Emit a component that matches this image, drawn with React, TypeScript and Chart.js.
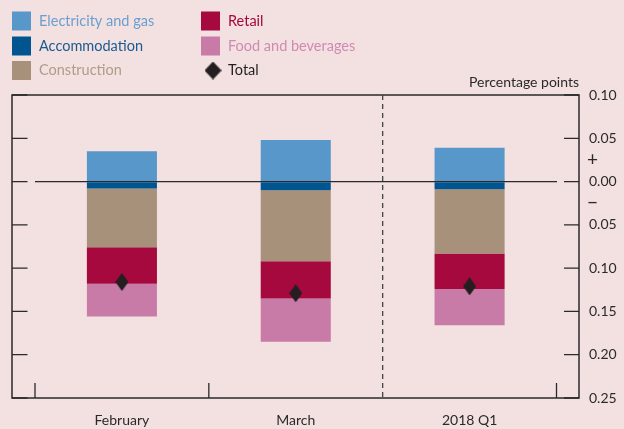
import { useEffect, useRef } from "react";
import { Chart, registerables } from "chart.js";
Chart.register(...registerables);

const categories = ["February", "March", "2018 Q1"];
const electricity = [0.035, 0.048, 0.039];
const accommodation = [-0.008, -0.010, -0.009];
const construction = [-0.068, -0.082, -0.074];
const retail = [-0.042, -0.043, -0.041];
const food = [-0.038, -0.050, -0.042];
const total = [-0.116, -0.129, -0.121];
const yTicks = [-0.25, -0.2, -0.15, -0.1, -0.05, 0, 0.05, 0.1];

const seriesNames = ["Electricity and gas", "Accommodation", "Construction", "Retail", "Food and beverages", "Total"];
const colors = ["#5897C9", "#00548F", "#A8917A", "#A6093E", "#C87BA7", "#231F20"];
const textColors = ["#6A9FCF", "#1A5A90", "#B09C88", "#A6093E", "#D08AB2", "#231F20"];
const BG = "#F3E0E1";
const INK = "#2a2a2a";
const FONT = "Lato, 'Open Sans', sans-serif";

function makeDiamond(w: number, h: number): HTMLCanvasElement {
  const c = document.createElement("canvas");
  c.width = w;
  c.height = h;
  const g = c.getContext("2d")!;
  g.fillStyle = colors[5];
  g.beginPath();
  g.moveTo(w / 2, 0);
  g.lineTo(w, h / 2);
  g.lineTo(w / 2, h);
  g.lineTo(0, h / 2);
  g.closePath();
  g.fill();
  return c;
}

export default function App() {
  const ref = useRef<HTMLCanvasElement>(null);
  useEffect(() => {
    const diamond = makeDiamond(13, 18);
    const legendDiamond = makeDiamond(17, 18);
    const framePlugin = {
      id: "frame",
      beforeDraw(chart: any) {
        const { ctx } = chart;
        ctx.save();
        ctx.fillStyle = BG;
        ctx.fillRect(0, 0, chart.width, chart.height);
        ctx.restore();
      },
      afterDraw(chart: any) {
        const { ctx, chartArea: ca } = chart;
        const y = chart.scales.y;
        const x = chart.scales.x;
        const L = ca.left - 23;
        const R = ca.right + 22.5;
        ctx.save();
        ctx.strokeStyle = INK;
        ctx.lineWidth = 1.5;
        ctx.strokeRect(L, ca.top, R - L, ca.bottom - ca.top);
        ctx.lineWidth = 1.3;
        yTicks.forEach((v) => {
          const py = y.getPixelForValue(v);
          ctx.beginPath();
          ctx.moveTo(L, py);
          ctx.lineTo(L + 15.5, py);
          ctx.moveTo(R - 15, py);
          ctx.lineTo(R, py);
          ctx.stroke();
        });
        const n = categories.length;
        const half = (x.getPixelForValue(1) - x.getPixelForValue(0)) / 2;
        for (let i = 0; i <= n; i++) {
          const px = i < n ? x.getPixelForValue(i) - half : x.getPixelForValue(n - 1) + half;
          if (i === 2) {
            ctx.save();
            ctx.setLineDash([5, 4]);
            ctx.strokeStyle = "#444";
            ctx.beginPath();
            ctx.moveTo(px, ca.top);
            ctx.lineTo(px, ca.bottom);
            ctx.stroke();
            ctx.restore();
          } else {
            ctx.beginPath();
            ctx.moveTo(px, ca.bottom - 15);
            ctx.lineTo(px, ca.bottom);
            ctx.stroke();
          }
        }
        ctx.fillStyle = INK;
        ctx.textAlign = "center";
        ctx.textBaseline = "middle";
        ctx.font = `19px ${FONT}`;
        ctx.fillText("+", ca.right + 36, y.getPixelForValue(0.025));
        ctx.fillText("\u2212", ca.right + 36, y.getPixelForValue(-0.025));
        ctx.font = `14px ${FONT}`;
        ctx.textAlign = "right";
        ctx.fillText("Percentage points", R, 82);
        ctx.font = `14.5px ${FONT}`;
        ctx.textAlign = "left";
        const pos = [
          [12, 21], [12, 46], [12, 70.5],
          [201, 21], [201, 46], [201, 70.5],
        ];
        seriesNames.forEach((name, i) => {
          const [lx, ly] = pos[i];
          if (i < 5) {
            ctx.fillStyle = colors[i];
            ctx.fillRect(lx, ly - 9.5, 19, 19);
          } else {
            ctx.drawImage(legendDiamond, lx + 3.5, ly - 9);
          }
          ctx.fillStyle = textColors[i];
          ctx.fillText(name, lx + 27, ly);
        });
        ctx.restore();
      },
    };

    const chart = new Chart(ref.current!, {
      type: "bar",
      data: {
        labels: categories,
        datasets: [
          { label: seriesNames[0], data: electricity, backgroundColor: colors[0], stack: "s", order: 1 },
          { label: seriesNames[1], data: accommodation, backgroundColor: colors[1], stack: "s", order: 1 },
          { label: seriesNames[2], data: construction, backgroundColor: colors[2], stack: "s", order: 1 },
          { label: seriesNames[3], data: retail, backgroundColor: colors[3], stack: "s", order: 1 },
          { label: seriesNames[4], data: food, backgroundColor: colors[4], stack: "s", order: 1 },
          {
            type: "line",
            label: seriesNames[5],
            data: total,
            stack: "t",
            order: 0,
            showLine: false,
            pointStyle: diamond,
            pointRadius: 9,
            borderColor: colors[5],
            backgroundColor: colors[5],
          } as any,
        ],
      },
      options: {
        animation: false,
        responsive: false,
        devicePixelRatio: 1,
        layout: { padding: { left: 35, top: 95, right: 0, bottom: 0 } },
        datasets: { bar: { categoryPercentage: 1, barPercentage: 0.403 } },
        plugins: { legend: { display: false }, tooltip: { enabled: false } },
        scales: {
          x: {
            stacked: true,
            offset: true,
            grid: { display: false, drawTicks: false },
            border: { display: false },
            ticks: { color: INK, font: { family: FONT, size: 14 }, padding: 14 },
            afterFit: (s: any) => { s.height = 31; },
          },
          y: {
            stacked: true,
            position: "right",
            min: -0.25,
            max: 0.1,
            z: 1,
            afterBuildTicks: (s: any) => { s.ticks = yTicks.map((v) => ({ value: v })); },
            grid: {
              drawTicks: true,
              tickLength: 32.5,
              tickColor: "rgba(0,0,0,0)",
              color: (c: any) => (c.tick && Math.abs(c.tick.value) < 1e-9 ? INK : "rgba(0,0,0,0)"),
              lineWidth: 1.3,
            },
            border: { display: false },
            ticks: {
              color: INK,
              font: { family: FONT, size: 14 },
              padding: 0,
              callback: (v: any) => Math.abs(Number(v)).toFixed(2),
            },
            afterFit: (s: any) => { s.width = 67.5; },
          },
        },
      },
      plugins: [framePlugin],
    });
    return () => chart.destroy();
  }, []);
  return (
    <div style={{ position: "absolute", left: 0, top: 0, width: 624, height: 429, background: BG }}>
      <canvas ref={ref} width={624} height={429} style={{ display: "block" }} />
    </div>
  );
}
